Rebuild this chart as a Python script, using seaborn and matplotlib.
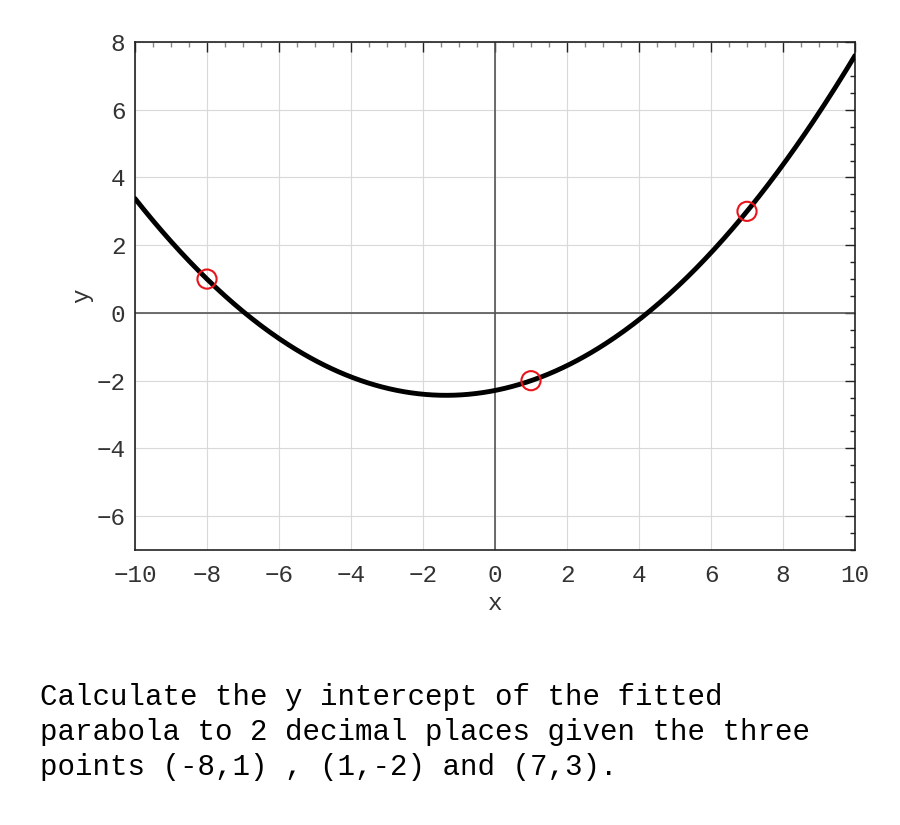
import numpy as np
import pandas as pd
import matplotlib
matplotlib.use("Agg")
import matplotlib.pyplot as plt
import seaborn as sns
from matplotlib.ticker import MultipleLocator

# Data: the three given points
px = [-8, 1, 7]
py = [1, -2, 3]
x_ticks = [-10, -8, -6, -4, -2, 0, 2, 4, 6, 8, 10]
y_ticks = [-6, -4, -2, 0, 2, 4, 6, 8]
question = ("Calculate the y intercept of the fitted\n"
            "parabola to 2 decimal places given the three\n"
            "points (-8,1) , (1,-2) and (7,3).")

# fitted parabola through the points
coef = np.polyfit(px, py, 2)
xs = np.linspace(-10, 10, 400)
curve = pd.DataFrame({"x": xs, "y": np.polyval(coef, xs)})
pts = pd.DataFrame({"x": px, "y": py})

sns.set_style("white")
plt.rcParams['font.family'] = ['Liberation Mono', 'DejaVu Sans Mono']
plt.rcParams['axes.unicode_minus'] = True

fig = plt.figure(figsize=(9, 8.25), dpi=100)
ax = fig.add_axes([0.15, 0.3333, 0.8, 0.6158])

ax.grid(True, color="#d9d9d9", linewidth=0.8, zorder=0)
ax.axhline(0, color="#555555", linewidth=1.2, zorder=1)
ax.axvline(0, color="#555555", linewidth=1.2, zorder=1)

sns.lineplot(data=curve, x="x", y="y", ax=ax, color="black", linewidth=3.5, zorder=3)
sns.scatterplot(data=pts, x="x", y="y", ax=ax, s=190, facecolor="none",
                edgecolor="#e8141c", linewidth=1.5, zorder=4)

ax.set_xlim(-10, 10)
ax.set_ylim(-7, 8)
ax.set_xticks(x_ticks)
ax.set_yticks(y_ticks)
ax.xaxis.set_minor_locator(MultipleLocator(0.5))
ax.yaxis.set_minor_locator(MultipleLocator(0.5))
ax.tick_params(which="both", direction="in", top=True, right=True, labelsize=17.5,
               labelcolor="#333333", color="#222222")
ax.tick_params(which="major", length=7, width=1)
ax.tick_params(axis="x", which="major", pad=10)
ax.tick_params(axis="y", which="major", pad=7)
ax.tick_params(which="minor", length=3.5, width=1)
ax.tick_params(axis="x", which="minor", color="#888888")
for s in ax.spines.values():
    s.set_color("#222222")
    s.set_linewidth(1.2)
ax.set_xlabel("x", fontsize=17.5, color="#333333", labelpad=4)
ax.set_ylabel("y", fontsize=17.5, color="#333333", labelpad=2)

fig.text(40 / 900, 1 - 732 / 825, question, fontsize=21, va="center",
         ha="left", linespacing=1.32, color="black")

fig.savefig("out.png", dpi=100)
